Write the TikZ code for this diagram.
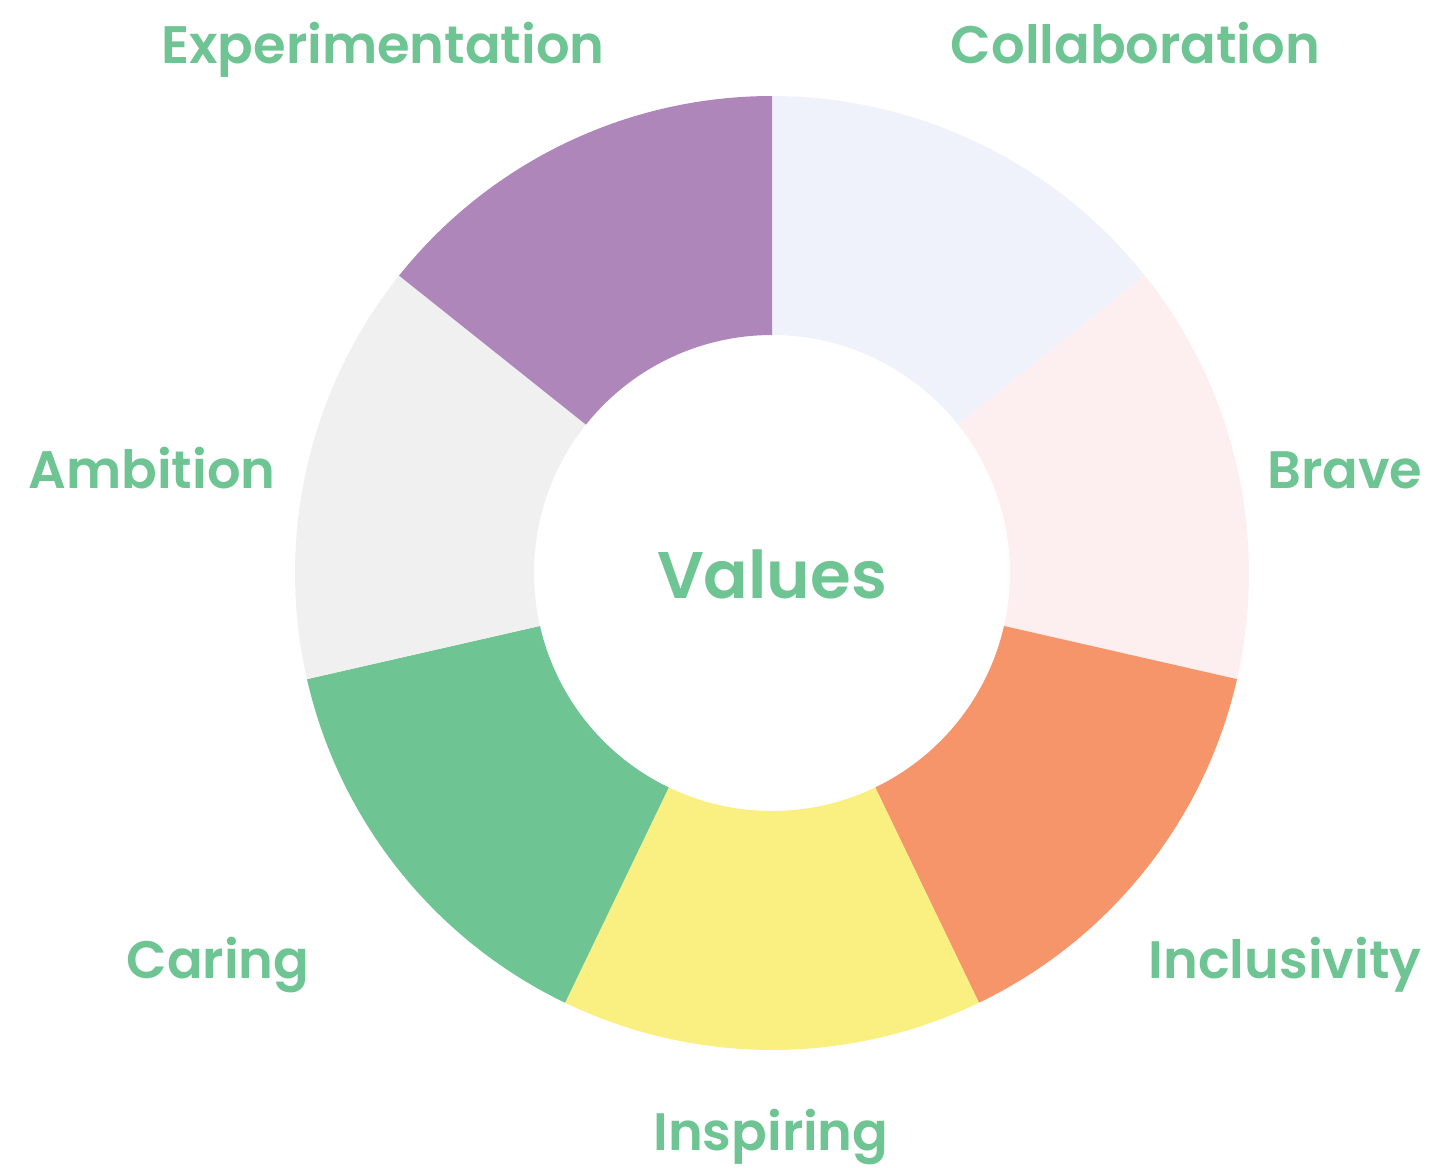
\documentclass[tikz,border=0pt]{standalone}
\usepackage{fontspec}
\setmainfont{Poppins}[UprightFont=* SemiBold]
\definecolor{collabcol}{HTML}{EFF2FA}
\definecolor{bravecol}{HTML}{FDEFEF}
\definecolor{inclcol}{HTML}{F6946A}
\definecolor{inspcol}{HTML}{FAF081}
\definecolor{carecol}{HTML}{6EC493}
\definecolor{ambcol}{HTML}{EFF0EF}
\definecolor{expcol}{HTML}{AE86BA}
\definecolor{labelcol}{HTML}{6EC493}
\tikzset{
  valuelabel/.style={text=labelcol, anchor=base, font=\fontsize{30}{36}\selectfont},
  centrelabel/.style={text=labelcol, anchor=base, font=\fontsize{37.5}{45}\selectfont}
}
\begin{document}
\begin{tikzpicture}
        \useasboundingbox (-15.44,-11.88) rectangle (13.16,11.46);
        %draw the ring, one slice per value
        \def\ringout{9.54}
        \def\ringin{4.76}
        \foreach \a/\col in {90/collabcol, 38.571/bravecol, -12.857/inclcol, -64.286/inspcol, -115.714/carecol, -167.143/ambcol, -218.571/expcol}{
            \fill[\col] (\a:\ringin) -- (\a:\ringout) arc[start angle=\a, delta angle=-51.43, radius=\ringout]
                -- ({\a-51.43}:\ringin) arc[start angle={\a-51.43}, delta angle=51.43, radius=\ringin] -- cycle;
        }
        
        \node[centrelabel] (values) at (0,-0.5) {Values};
        
        \node[valuelabel] (collab) at (7.27,10.2) {Collaboration};
        \node[valuelabel] (brave) at (11.46,1.7) {Brave};
        \node[valuelabel] (incl) at (10.26,-8.1) {Inclusivity};
        \node[valuelabel] (insp) at (-0.02,-11.54) {Inspiring};
        \node[valuelabel] (caring) at (-11.08,-8.1) {Caring};
        \node[valuelabel] (amb) at (-12.4,1.7) {Ambition};
        \node[valuelabel] (exper) at (-7.78,10.2) {Experimentation};
        
    \end{tikzpicture}
\end{document}
